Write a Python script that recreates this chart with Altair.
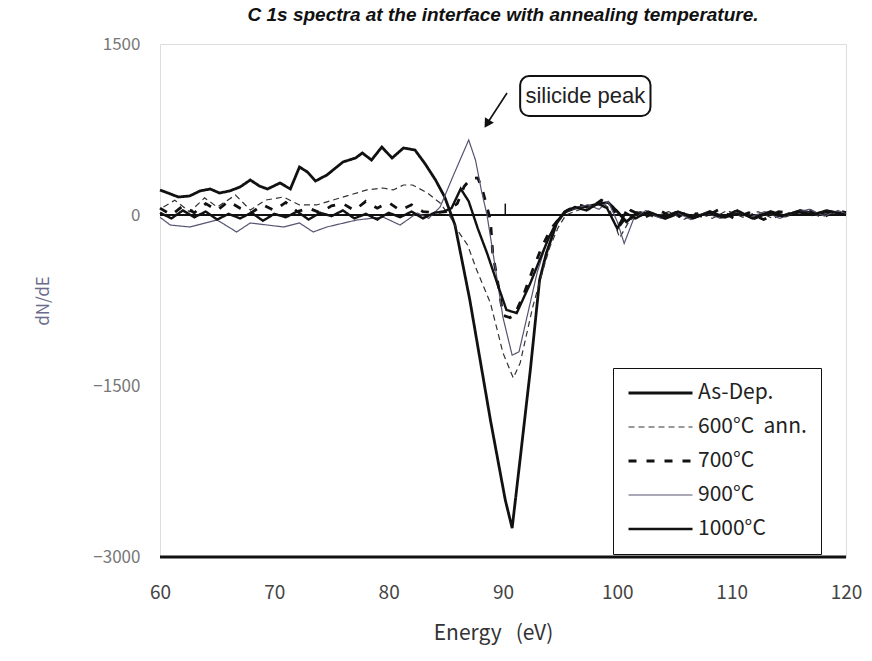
import altair as alt
import pandas as pd

# ---------------- data ----------------
series_names = ["As-Dep.", "600°C\u00a0\u00a0ann.", "700°C", "900°C", "1000°C"]

asdep_e = [60.0, 60.7, 61.6, 62.6, 63.5, 64.4, 65.2, 66.1, 67.0, 67.9, 68.7, 69.4, 70.5, 71.4,
           72.2, 72.9, 73.6, 74.6, 76.0, 77.1, 77.7, 78.5, 79.4, 80.3, 81.3, 82.3, 83.2, 84.1,
           84.9, 85.8, 87.1, 88.9, 90.2, 90.8, 91.5, 92.4, 93.2, 93.8, 94.7, 95.4, 96.3, 97.6,
           98.5, 99.2, 100.0, 100.8, 101.7, 102.9, 104.2, 105.5, 106.8, 108.1, 109.4, 110.7,
           112.0, 113.4, 114.7, 116.0, 117.3, 118.6, 120.0]
asdep_v = [219, 193, 158, 167, 211, 228, 193, 211, 246, 307, 254, 228, 281, 228,
           421, 377, 298, 351, 465, 500, 544, 482, 596, 500, 588, 570, 447, 307,
           158, -88, -746, -1798, -2500, -2746, -2140, -1351, -570, -333, -70, 26, 60, 80,
           100, 110, 30, -60, 20, 10, -30, 20, -20, 30, -20, 20,
           -30, 30, -10, 40, 10, 30, 10]

a600_e = [60.3, 61.3, 62.6, 63.9, 65.0, 66.6, 67.9, 69.2, 70.8, 72.2, 73.7, 75.1, 76.6, 78.1,
          79.5, 80.4, 81.3, 82.1, 83.4, 84.5, 85.4, 86.0, 86.9, 87.7, 88.9, 90.0, 90.9, 91.5,
          92.6, 93.5, 94.1, 94.8, 95.5, 96.5, 97.5, 98.5, 99.3, 100.2, 101.0, 102.0, 103.2,
          104.5, 105.8, 107.0, 108.3, 109.6, 111.0, 112.3, 113.6, 115.0, 116.3, 117.6, 119.0, 120.0]
a600_v = [70, 130, 26, 150, 70, 175, 44, 130, 158, 88, 88, 130, 175, 220,
          237, 220, 263, 263, 193, 105, -18, -132, -263, -482, -772, -1210, -1430, -1298,
          -807, -482, -281, -114, 0, 40, 70, 120, 60, -200, -60, 30, -20,
          30, -40, 20, -30, 40, -20, 30, -30, 20, 40, -10, 30, 20]

a700_e = [60.0, 61.0, 62.0, 63.0, 64.0, 65.0, 66.0, 67.0, 68.0, 69.0, 70.0, 71.0, 72.0, 73.0,
          74.0, 75.0, 76.0, 77.0, 78.0, 79.0, 80.0, 81.0, 82.0, 83.0, 84.0, 85.0, 86.0, 86.6,
          87.2, 87.8, 88.2, 88.6, 88.9, 89.1, 89.7, 90.0, 90.6, 91.0, 91.8, 92.6, 93.4, 94.2,
          95.0, 95.6, 96.6, 97.6, 98.6, 99.5, 100.3, 101.2, 102.4, 103.7, 105.0, 106.3, 107.6,
          108.9, 110.2, 111.5, 112.8, 114.1, 115.4, 116.7, 118.0, 119.2, 120.0]
a700_v = [60, 0, 80, 20, 100, 40, 120, 60, 20, 90, 40, 110, 30, 60,
          20, 80, 100, 40, 120, 60, 110, 40, 90, 30, 20, 30, 100, 250,
          320, 325, 220, 70, -44, -333, -684, -880, -900, -877, -700, -480, -280, -120,
          -20, 40, 90, 60, 130, 80, -80, 40, -20, 40, -30, 30, -20,
          50, -30, 20, -40, 30, 10, 50, -20, 40, 20]

a900_e = [60.0, 60.9, 62.6, 65.0, 66.7, 67.9, 70.8, 72.2, 73.4, 74.6, 77.2, 79.5, 81.0, 82.5,
          83.5, 84.5, 85.6, 87.0, 87.6, 88.1, 88.6, 89.2, 90.0, 90.8, 91.4, 92.2, 93.0, 93.8,
          94.6, 95.4, 96.4, 97.4, 98.4, 99.2, 100.0, 100.6, 101.4, 102.5, 103.8, 105.1, 106.4,
          107.7, 109.0, 110.3, 111.6, 112.9, 114.2, 115.5, 116.8, 118.1, 119.3, 120.0]
a900_v = [-20, -88, -105, -44, -149, -70, -105, -70, -149, -105, -44, -18, -88, 18,
          -30, 70, 333, 658, 480, 220, 0, -380, -900, -1230, -1200, -850, -500, -250,
          -80, 30, 60, 90, 50, 120, -60, -250, -40, 40, -30, 30, -40,
          20, -30, 40, -20, 30, -30, 20, 50, -10, 40, 10]

a1000_e = [60.0, 61.0, 62.0, 63.0, 64.0, 65.0, 66.0, 67.0, 68.0, 69.0, 70.0, 71.0, 72.0, 73.0,
           74.0, 75.0, 76.0, 77.0, 78.0, 79.0, 80.0, 81.0, 82.0, 83.0, 84.0, 84.8, 85.5, 86.3,
           87.0, 87.8, 88.6, 89.5, 90.3, 91.2, 92.4, 93.2, 94.0, 94.7, 95.4, 96.3, 97.3, 98.3,
           99.1, 100.0, 100.7, 101.6, 102.7, 104.0, 105.3, 106.6, 107.9, 109.2, 110.5, 111.8,
           113.1, 114.4, 115.7, 117.0, 118.3, 119.5, 120.0]
a1000_v = [20, -30, 40, -20, 30, -40, 10, -30, 20, -50, 10, -20, 30, -40,
           20, -10, 40, -30, 10, -40, 20, -20, 30, -30, 20, 30, 60, 230,
           120, -120, -333, -600, -833, -860, -596, -395, -200, -60, 30, 70, 40, 100,
           60, -120, 20, -30, 30, -20, 30, -30, 20, -20, 40, -30,
           20, -10, 30, 0, 40, 10, 0]

# annotation values (data units)
zero_x = [60, 120]
note_text = ["silicide peak"]
note_box_x = [91.5, 102.9]
note_box_y = [1219, 868]
note_text_xy = [97.2, 1044]
arrow_x = [90.35, 88.6]
arrow_y = [1070, 800]
small_tick_x = [90.2]
small_tick_y = [0, 100]

# ---------------- build table ----------------
frames = []
for name, e, v in zip(series_names, [asdep_e, a600_e, a700_e, a900_e, a1000_e],
                      [asdep_v, a600_v, a700_v, a900_v, a1000_v]):
    frames.append(pd.DataFrame({"Energy": e, "dNdE": v, "series": name}))
df = pd.concat(frames, ignore_index=True)
df["order"] = range(len(df))

xscale = alt.Scale(domain=[60, 120], nice=False, zero=False)
yscale = alt.Scale(domain=[-3000, 1500], nice=False, zero=False)

TICKFONT = "Noto Sans CJK JP"

legend = alt.Legend(title=None, orient="none", legendX=453, legendY=324,
                    fillColor="white", strokeColor="#111", padding=14,
                    symbolType="stroke", symbolSize=4096, clipHeight=22,
                    labelFontSize=21, labelFont=TICKFONT, labelColor="#222",
                    rowPadding=12, labelOffset=4, cornerRadius=0, labelLimit=300)

lines = alt.Chart(df).mark_line(interpolate="linear").encode(
    x=alt.X("Energy:Q", scale=xscale,
            axis=alt.Axis(values=[60, 70, 80, 90, 100, 110, 120],
                          title="Energy\u00a0\u00a0\u00a0(eV)",
                          grid=False, ticks=False, domain=False, labelFontSize=19,
                          labelColor="#444", labelFont=TICKFONT, labelPadding=26,
                          labelFlush=False,
                          titleFont=TICKFONT, titleFontSize=21, titleFontWeight="normal",
                          titleColor="#333", titlePadding=20, titleX=333)),
    y=alt.Y("dNdE:Q", scale=yscale,
            axis=alt.Axis(values=[-3000, -1500, 0, 1500], format="d", title="dN/dE",
                          grid=False, ticks=False, domain=False, labelFontSize=17,
                          labelColor="#777", labelFont=TICKFONT, labelPadding=20,
                          labelFlush=False,
                          titleFont=TICKFONT, titleFontSize=17, titleFontWeight="normal",
                          titleColor="#6a6a8a", titlePadding=40)),
    color=alt.Color("series:N", scale=alt.Scale(domain=series_names,
                    range=["#111111", "#333333", "#111111", "#555572", "#111111"]),
                    legend=legend),
    strokeDash=alt.StrokeDash("series:N", scale=alt.Scale(domain=series_names,
                    range=[[1, 0], [6, 4], [8, 10], [1, 0], [1, 0]]), legend=legend),
    strokeWidth=alt.StrokeWidth("series:N", scale=alt.Scale(type="ordinal", domain=series_names,
                    range=[2.8, 1.2, 2.8, 1.2, 2.4]), legend=legend),
    order="order:Q",
)

zero_df = pd.DataFrame({"x": [zero_x[0]], "x2": [zero_x[1]], "y": [0]})
zero_line = alt.Chart(zero_df).mark_rule(color="#111", strokeWidth=2.2).encode(
    x="x:Q", x2="x2:Q", y="y:Q")

tick_df = pd.DataFrame({"x": small_tick_x, "y": [small_tick_y[0]], "y2": [small_tick_y[1]]})
small_tick = alt.Chart(tick_df).mark_rule(color="#111", strokeWidth=1.5).encode(
    x="x:Q", y="y:Q", y2="y2:Q")

bottom_df = pd.DataFrame({"x": [zero_x[0]], "x2": [zero_x[1]], "y": [-3000]})
bottom_line = alt.Chart(bottom_df).mark_rule(color="#111", strokeWidth=3).encode(
    x="x:Q", x2="x2:Q", y="y:Q")

box_df = pd.DataFrame({"x": [note_box_x[0]], "x2": [note_box_x[1]],
                       "y": [note_box_y[0]], "y2": [note_box_y[1]]})
box = alt.Chart(box_df).mark_rect(fill="white", stroke="#111", strokeWidth=2,
                                  cornerRadius=9).encode(
    x="x:Q", x2="x2:Q", y="y:Q", y2="y2:Q")

text_df = pd.DataFrame({"x": [note_text_xy[0]], "y": [note_text_xy[1]], "t": note_text})
note = alt.Chart(text_df).mark_text(fontSize=22, font="Liberation Sans", color="#222",
                                    align="center", baseline="middle").encode(
    x="x:Q", y="y:Q", text="t:N")

arrow_df = pd.DataFrame({"x": arrow_x, "y": arrow_y})
arrow_line = alt.Chart(arrow_df).mark_line(color="#111", strokeWidth=1.6).encode(
    x="x:Q", y="y:Q")
head_df = pd.DataFrame({"x": [arrow_x[1]], "y": [arrow_y[1]]})
arrow_head = alt.Chart(head_df).mark_point(shape="triangle-down", filled=True, color="#111",
                                           size=110, angle=32, opacity=1).encode(
    x="x:Q", y="y:Q")

chart = alt.layer(zero_line, small_tick, lines, bottom_line, arrow_line, arrow_head, box,
                  note).properties(
    width=686, height=513,
    padding={"left": 160, "top": 44, "right": 26, "bottom": 104},
    autosize=alt.AutoSizeParams(type="none"),
    title=alt.Title("C 1s spectra at the interface with annealing temperature.",
                    fontSize=19, font="Liberation Sans", fontWeight="bold", fontStyle="italic",
                    color="#111", anchor="middle", offset=10),
).configure_view(stroke="#111", strokeWidth=1.5).configure(background="white")

chart.save("out.html", embed_options={"renderer": "svg", "actions": False})
